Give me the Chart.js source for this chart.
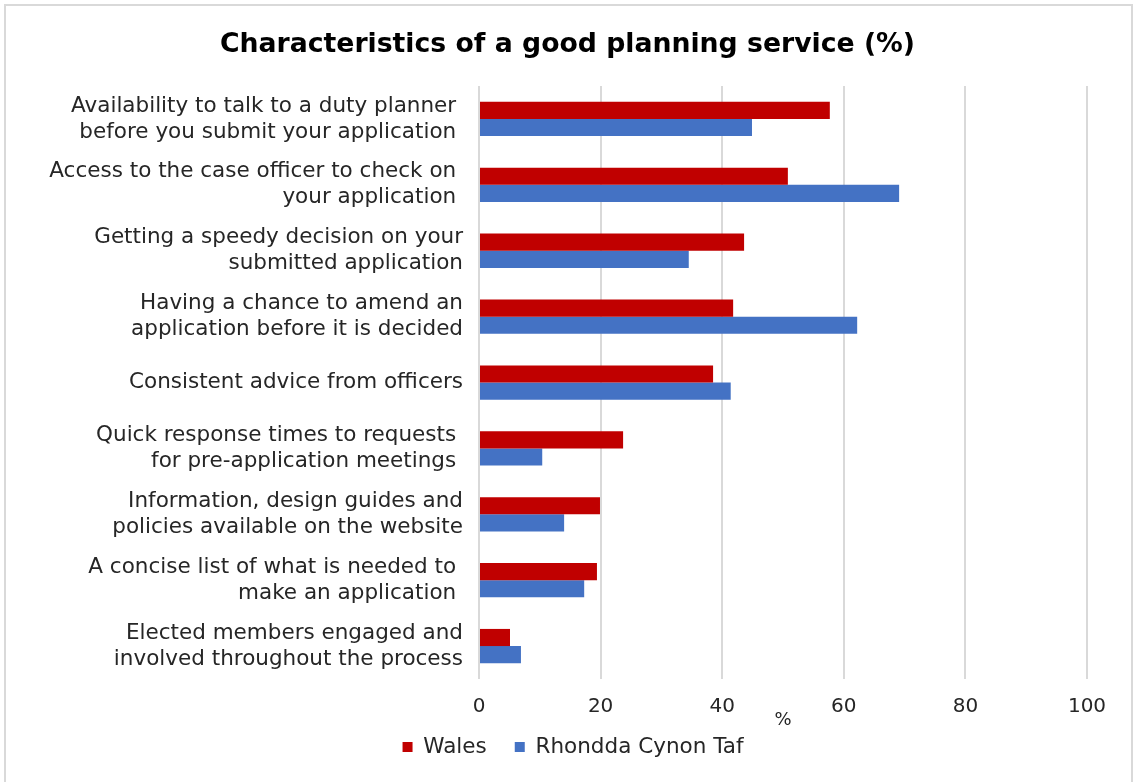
<!DOCTYPE html>
<html>
<head>
<meta charset="utf-8">
<script src="https://cdn.jsdelivr.net/npm/chart.js@4"></script>
<style>
  html, body { margin: 0; padding: 0; background: #ffffff; overflow: hidden; }
  #frame {
    position: absolute;
    left: 4px;
    top: 4px;
    width: 1125px;
    height: 800px;
    border: 2px solid #d9d9d9;
    border-bottom: none;
    background: #ffffff;
  }
  #chart { display: block; }
</style>
</head>
<body>
<div id="frame">
  <canvas id="chart" width="1125" height="776"></canvas>
</div>
<script>
// Survey categories (wrapped onto two lines, as shown on the axis)
const categories = [
  ["Availability to talk to a duty planner ", "before you submit your application "],
  ["Access to the case officer to check on ", "your application "],
  ["Getting a speedy decision on your", "submitted application"],
  ["Having a chance to amend an", "application before it is decided"],
  "Consistent advice from officers",
  ["Quick response times to requests ", "for pre-application meetings "],
  ["Information, design guides and", "policies available on the website"],
  ["A concise list of what is needed to ", "make an application "],
  ["Elected members engaged and", "involved throughout the process"],
];

// Share of respondents (%) per category
const walesValues = [57.7, 50.8, 43.6, 41.8, 38.5, 23.7, 19.9, 19.4, 5.1];
const rctValues = [44.9, 69.1, 34.5, 62.2, 41.4, 10.4, 14.0, 17.3, 6.9];

const seriesNames = ["Wales", "Rhondda Cynon Taf"];
const xTicks = [0, 20, 40, 60, 80, 100];

const FONT = "'DejaVu Sans', Verdana, sans-serif";
const TEXT = "#262626";

document.addEventListener("DOMContentLoaded", function () {
  initializePlanningChart();
});

// Title and legend sit centred a little right of the canvas middle,
// and the legend is pulled up close to the axis labels.
const nudgeBlocks = {
  id: "nudgeBlocks",
  afterLayout: function (chart) {
    const title = chart.titleBlock;
    if (title) {
      title.left += 21;
      title.right += 21;
    }
    const legend = chart.legend;
    if (legend) {
      legend.left += 26.5;
      legend.right += 26.5;
      legend.top -= 10.75;
      legend.bottom -= 10.75;
    }
  },
};

function initializePlanningChart() {
  const ctx = document.getElementById("chart");
  if (!ctx) return;

  new Chart(ctx, {
    type: "bar",
    data: {
      labels: categories,
      datasets: [
        {
          label: seriesNames[0],
          data: walesValues,
          backgroundColor: "#C00000",
          borderWidth: 0,
          barPercentage: 1,
          categoryPercentage: 0.52,
        },
        {
          label: seriesNames[1],
          data: rctValues,
          backgroundColor: "#4472C4",
          borderWidth: 0,
          barPercentage: 1,
          categoryPercentage: 0.52,
        },
      ],
    },
    plugins: [nudgeBlocks],
    options: {
      indexAxis: "y",
      responsive: false,
      animation: false,
      devicePixelRatio: 1,
      layout: {
        padding: { left: 0, right: 44, top: 0, bottom: 3.5 },
      },
      plugins: {
        title: {
          display: true,
          text: "Characteristics of a good planning service (%)",
          color: "#000000",
          font: { family: FONT, size: 26.7, weight: "bold" },
          padding: { top: 23, bottom: 25 },
        },
        legend: {
          display: true,
          position: "bottom",
          labels: {
            color: TEXT,
            font: { family: FONT, size: 21.5 },
            boxWidth: 10,
            boxHeight: 10,
            padding: 28,
          },
        },
        tooltip: { enabled: false },
      },
      scales: {
        x: {
          min: 0,
          max: 100,
          afterBuildTicks: function (scale) {
            scale.ticks = xTicks.map((v) => ({ value: v }));
          },
          afterFit: function (scale) {
            scale.height = 40;
          },
          ticks: {
            color: TEXT,
            font: { family: FONT, size: 20 },
            padding: 16,
          },
          grid: {
            color: "#d9d9d9",
            lineWidth: 2,
            drawTicks: false,
          },
          border: { display: false },
          title: {
            display: true,
            text: "%",
            color: TEXT,
            font: { family: FONT, size: 18 },
            padding: { top: 0, bottom: -12 },
          },
        },
        y: {
          afterFit: function (scale) {
            scale.width = 473;
          },
          ticks: {
            color: TEXT,
            font: { family: FONT, size: 21.5, lineHeight: 1.21 },
            padding: 16,
            autoSkip: false,
          },
          grid: { display: false, drawTicks: false },
          border: { display: false },
        },
      },
    },
  });
}
</script>
</body>
</html>
